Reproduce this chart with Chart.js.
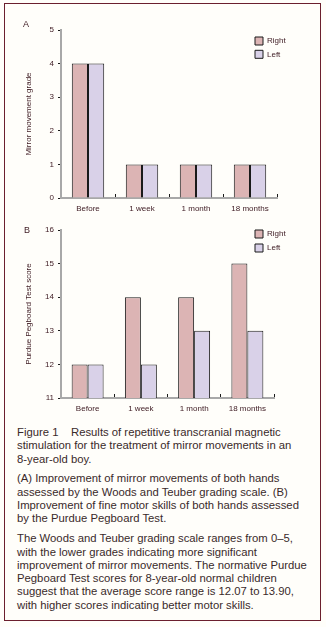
<!DOCTYPE html>
<html>
<head>
<meta charset="utf-8">
<script src="https://cdn.jsdelivr.net/npm/chart.js@4/dist/chart.umd.min.js"></script>
<style>
  body { margin: 0; background: #fffefa; width: 326px; height: 627px; position: relative; overflow: hidden; font-family: "Liberation Sans", Arial, sans-serif; }
  #frame { position: absolute; left: 4px; top: 3px; width: 315px; height: 616px; border: 1.5px solid #6b1f2e; }
  canvas { position: absolute; left: 0; }
  #chartA { top: 0; }
  #chartB { top: 215px; }
  .panel { position: absolute; font-size: 9px; color: #3d1a22; }
  #caption { position: absolute; left: 17px; top: 426px; font-size: 11.3px; line-height: 13.3px; color: #3a2a2a; white-space: nowrap; }
  #caption p { margin: 0 0 6.6px 0; }
</style>
</head>
<body>
<div id="frame"></div>
<canvas id="chartA" width="326" height="216"></canvas>
<canvas id="chartB" width="326" height="201"></canvas>
<div class="panel" style="left:23px;top:19px;">A</div>
<div class="panel" style="left:24px;top:225px;">B</div>
<div id="caption">
  <p>Figure 1&nbsp;&nbsp;&nbsp; Results of repetitive transcranial magnetic<br>stimulation for the treatment of mirror movements in an<br>8-year-old boy.</p>
  <p>(A) Improvement of mirror movements of both hands<br>assessed by the Woods and Teuber grading scale. (B)<br>Improvement of fine motor skills of both hands assessed<br>by the Purdue Pegboard Test.</p>
  <p>The Woods and Teuber grading scale ranges from 0–5,<br>with the lower grades indicating more significant<br>improvement of mirror movements. The normative Purdue<br>Pegboard Test scores for 8-year-old normal children<br>suggest that the average score range is 12.07 to 13.90,<br>with higher scores indicating better motor skills.</p>
</div>
<script>
// data
const timepoints = ["Before", "1 week", "1 month", "18 months"];
const gradeRight = [4, 1, 1, 1];
const gradeLeft = [4, 1, 1, 1];
const pegRight = [12, 14, 14, 15];
const pegLeft = [12, 12, 13, 13];

const textColor = "#3d1a22";
Chart.defaults.font.family = "'Liberation Sans', Arial, sans-serif";
Chart.defaults.font.size = 8;
Chart.defaults.color = textColor;

// moves the legend to a fixed spot inside the plot
const legendSpot = {
    id: "legendSpot",
    afterLayout(chart, args, opts) {
        const lg = chart.legend;
        if (!lg) return;
        const w = lg.width, h = lg.height;
        lg.left = opts.x;
        lg.top = opts.y;
        lg.right = opts.x + w;
        lg.bottom = opts.y + h;
    },
};

function makeChart(id, right, left, yMin, yMax, yTitle, pad, legendY, legendGap) {
    return new Chart(document.getElementById(id), {
        type: "bar",
        data: {
            labels: timepoints,
            datasets: [
                {
                    label: "Right",
                    data: right,
                    backgroundColor: "#dcb4b4",
                    borderColor: "#1a1a1a",
                    borderWidth: 1,
                },
                {
                    label: "Left",
                    data: left,
                    backgroundColor: "#d9d1e8",
                    borderColor: "#1a1a1a",
                    borderWidth: 1,
                },
            ],
        },
        options: {
            responsive: false,
            animation: false,
            devicePixelRatio: 1,
            categoryPercentage: 0.6,
            barPercentage: 1.0,
            layout: { padding: pad },
            plugins: {
                legend: {
                    position: "chartArea",
                    align: "start",
                    labels: {
                        boxWidth: 8,
                        boxHeight: 8,
                        padding: legendGap,
                        color: textColor,
                        font: { size: 8 },
                    },
                },
                legendSpot: { x: 255 - legendGap, y: legendY - legendGap },
                tooltip: { enabled: false },
            },
            scales: {
                x: {
                    grid: {
                        offset: true,
                        drawOnChartArea: false,
                        tickLength: -4,
                        color: (c) => (c.index === 0 ? "rgba(0,0,0,0)" : "#1a1a1a"),
                    },
                    border: { color: "#a8a8a8", width: 2 },
                    ticks: { padding: 10, color: textColor, font: { size: 8 } },
                    afterFit: (s) => { s.height = 18; },
                },
                y: {
                    min: yMin,
                    max: yMax,
                    ticks: { stepSize: 1, padding: 4, color: textColor, font: { size: 8 } },
                    grid: { drawOnChartArea: false, tickLength: 3, color: "#1a1a1a" },
                    border: { color: "#a8a8a8", width: 2 },
                    title: {
                        display: true,
                        text: yTitle,
                        color: textColor,
                        font: { size: 8 },
                        padding: { top: 24, bottom: 0 },
                    },
                    afterFit: (s) => { s.width = 61; },
                },
            },
        },
        plugins: [legendSpot],
    });
}

makeChart("chartA", gradeRight, gradeLeft, 0, 5, "Mirror movement grade",
    { top: 30, right: 49, bottom: 0, left: 0 }, 37, 5.3);
makeChart("chartB", pegRight, pegLeft, 11, 16, "Purdue Pegboard Test score",
    { top: 15, right: 52, bottom: 0, left: 0 }, 15, 6);
</script>
</body>
</html>
